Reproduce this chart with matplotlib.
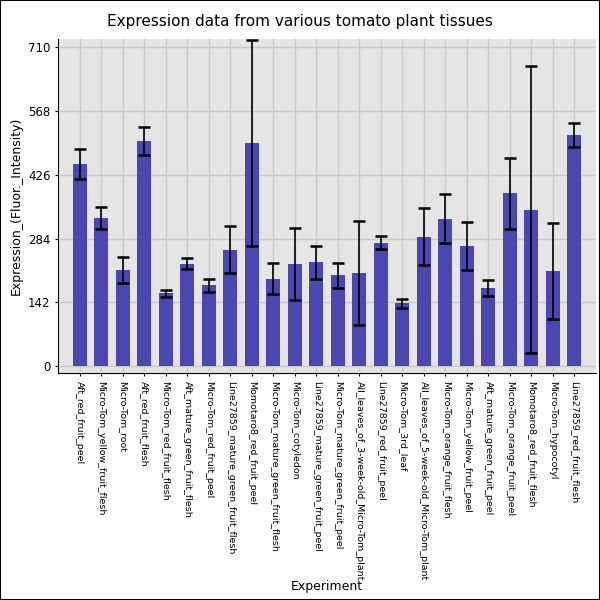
import numpy as np
import matplotlib
matplotlib.use("Agg")
import matplotlib.pyplot as plt

experiments = [
    "Aft_red_fruit_peel", "Micro-Tom_yellow_fruit_flesh", "Micro-Tom_root",
    "Aft_red_fruit_flesh", "Micro-Tom_red_fruit_flesh", "Aft_mature_green_fruit_flesh",
    "Micro-Tom_red_fruit_peel", "Line27859_mature_green_fruit_flesh",
    "Momotaro8_red_fruit_peel", "Micro-Tom_mature_green_fruit_flesh",
    "Micro-Tom_cotyledon", "Line27859_mature_green_fruit_peel",
    "Micro-Tom_mature_green_fruit_peel", "All_leaves_of_3-week-old_Micro-Tom_plant",
    "Line27859_red_fruit_peel", "Micro-Tom_3rd_leaf",
    "All_leaves_of_5-week-old_Micro-Tom_plant", "Micro-Tom_orange_fruit_flesh",
    "Micro-Tom_yellow_fruit_peel", "Aft_mature_green_fruit_peel",
    "Micro-Tom_orange_fruit_peel", "Momotaro8_red_fruit_flesh",
    "Micro-Tom_hypocotyl", "Line27859_red_fruit_flesh",
]
expression = [450, 330, 215, 501, 162, 228, 180, 259, 496, 195, 228, 231,
              202, 208, 275, 140, 288, 328, 268, 175, 384, 348, 212, 514]
errors = [33, 24, 29, 31, 8.5, 12.5, 14, 52, 229, 35, 80, 36,
          28.5, 116, 14, 10, 63, 55, 53, 18, 79, 318, 107, 26]
yticks = [0, 142, 284, 426, 568, 710]

fig = plt.figure(figsize=(6, 6), dpi=100)
ax = fig.add_axes([0.0967, 0.378, 0.8966, 0.557])
ax.set_facecolor("#e5e5e5")

x = np.arange(len(experiments))
ax.bar(x, expression, width=0.65, color="#4a46b2", zorder=2)
ax.errorbar(x, expression, yerr=errors, fmt="none", ecolor="black",
            elinewidth=1.2, capsize=4.5, capthick=1.8, zorder=3)

ax.set_xlim(-1, 24)
ax.set_ylim(-15, 727)
ax.set_yticks(yticks)
ax.set_yticklabels([str(t) for t in yticks], fontsize=8.5)
ax.set_xticks(x)
ax.set_xticklabels(experiments, rotation=270, fontsize=6.8)
ax.tick_params(axis="both", length=2)
ax.grid(True, color="#c8c8c8", linewidth=1, zorder=0)
ax.set_axisbelow(True)
for s in ["top", "right"]:
    ax.spines[s].set_visible(False)

ax.set_ylabel("Expression_(Fluor._Intensity)", fontsize=9)
ax.set_xlabel("Experiment", fontsize=9, labelpad=0)
fig.suptitle("Expression data from various tomato plant tissues", fontsize=11, y=0.977)

fig.patches.append(plt.Rectangle((0, 0), 1, 1, transform=fig.transFigure,
                                 fill=False, edgecolor="black", linewidth=1.5))
fig.savefig("out.png", dpi=100)
